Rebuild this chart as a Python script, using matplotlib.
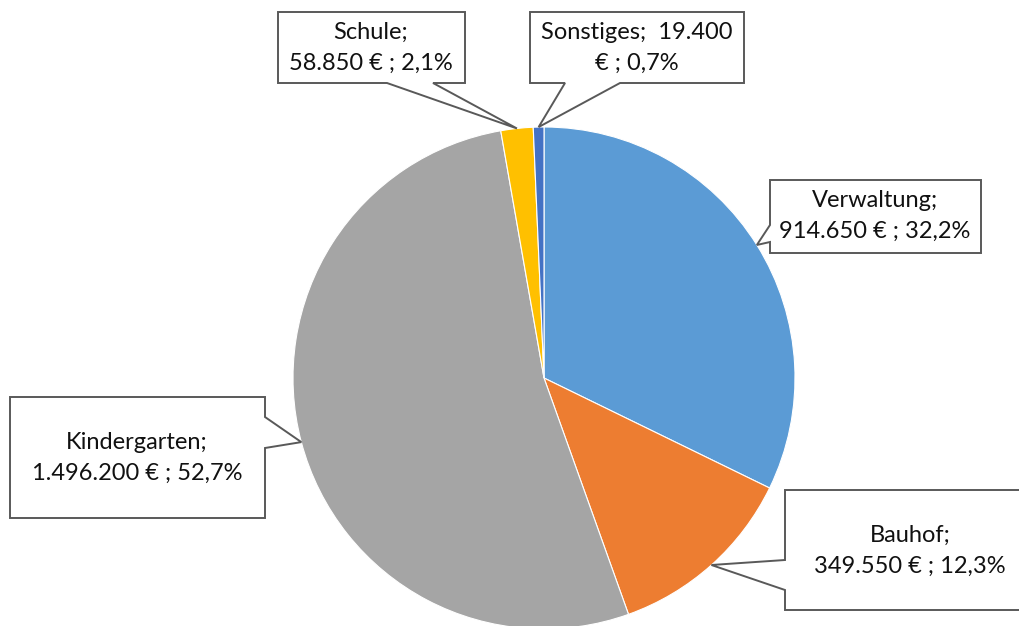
import numpy as np
import matplotlib
matplotlib.use("Agg")
import matplotlib.pyplot as plt
from matplotlib.patches import Polygon

# Daten
kategorien = ["Verwaltung", "Bauhof", "Kindergarten", "Schule", "Sonstiges"]
betraege = [914650, 349550, 1496200, 58850, 19400]
farben = ["#5B9BD5", "#ED7D31", "#A5A5A5", "#FFC000", "#4472C4"]

W, H = 1019, 626
plt.rcParams['font.family'] = ['Lato', 'DejaVu Sans']

fig = plt.figure(figsize=(W / 100, H / 100), dpi=100)
ax = fig.add_axes([0, 0, 1, 1])

cx, cy, r = 544, 378, 251          # Kreis in Pixel (y nach unten)


def py(y):
    return H - y


wedges, _ = ax.pie(betraege, colors=farben, startangle=90, counterclock=False,
                   center=(cx, py(cy)), radius=r,
                   wedgeprops=dict(edgecolor="white", linewidth=0.8))
ax.set_xlim(0, W)
ax.set_ylim(0, H)
ax.set_aspect("equal")
ax.axis("off")


def de_zahl(v):
    return f"{v:,}".replace(",", ".")


def de_proz(p):
    return f"{p:.1f}".replace(".", ",") + "%"


summe = sum(betraege)
anteile = [b / summe * 100 for b in betraege]
texte = [f"{k};\n{de_zahl(b)} € ; {de_proz(a)}"
         for k, b, a in zip(kategorien, betraege, anteile)]
# Excel hat diesen Text anders umgebrochen
texte[4] = f"{kategorien[4]};  {de_zahl(betraege[4])}\n€ ; {de_proz(anteile[4])}"

# Boxen: (x0, y0, x1, y1), Seite des Zeigers, Zeigerbasis, Textmitte
boxen = [
    ((770, 180, 981, 253), "left", (225, 242), (875, 216)),
    ((785, 490, 1040, 610), "left", (560, 590), (910, 551)),
    ((10, 397, 265, 518), "right", (417, 448), (137, 458)),
    ((278, 12, 465, 83), "bottom", (387, 433), (371, 48)),
    ((530, 12, 744, 83), "bottom", (565, 620), (637, 48)),
]

for w, (box, seite, basis, mitte), txt in zip(wedges, boxen, texte):
    mid = np.deg2rad((w.theta1 + w.theta2) / 2)
    tx, ty = cx + r * np.cos(mid), cy - r * np.sin(mid)
    x0, y0, x1, y1 = box
    b1, b2 = basis
    if seite == "left":
        pts = [(x0, y0), (x1, y0), (x1, y1), (x0, y1), (x0, b2), (tx, ty), (x0, b1)]
    elif seite == "right":
        pts = [(x0, y0), (x1, y0), (x1, b1), (tx, ty), (x1, b2), (x1, y1), (x0, y1)]
    else:
        pts = [(x0, y0), (x1, y0), (x1, y1), (b2, y1), (tx, ty), (b1, y1), (x0, y1)]
    ax.add_patch(Polygon([(x, py(y)) for x, y in pts], closed=True, facecolor="white",
                         edgecolor="#595959", linewidth=1.4, zorder=3))
    ax.text(mitte[0], py(mitte[1]), txt, ha="center", va="center", fontsize=17,
            color="#111111", linespacing=1.6, zorder=4)

fig.savefig("out.png", dpi=100)
